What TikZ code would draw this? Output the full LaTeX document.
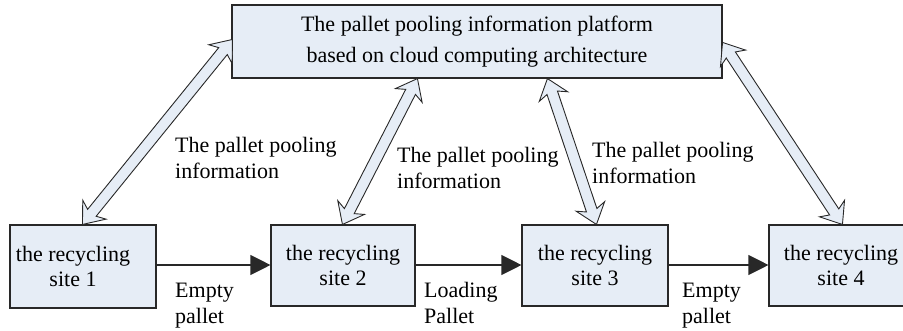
\documentclass[tikz,border=0pt]{standalone}
\usepackage{fontspec}
\setmainfont{Liberation Serif}
\usetikzlibrary{calc,arrows.meta}
\definecolor{boxfill}{RGB}{230,237,246}
\definecolor{edge}{RGB}{40,40,40}
\newcommand\ah{19pt}
\newcommand\aw{15pt}
\newcommand\aj{15pt}
\newcommand\as{5.5pt}
\newcommand\dblarrow[2]{%
  \draw[dblarr] (#1)
    -- ($(#1)!\ah!(#2)!\aw!90:(#2)$)
    -- ($(#1)!\aj!(#2)!\as!90:(#2)$)
    -- ($(#2)!\aj!(#1)!\as!-90:(#1)$)
    -- ($(#2)!\ah!(#1)!\aw!-90:(#1)$)
    -- (#2)
    -- ($(#2)!\ah!(#1)!\aw!90:(#1)$)
    -- ($(#2)!\aj!(#1)!\as!90:(#1)$)
    -- ($(#1)!\aj!(#2)!\as!-90:(#2)$)
    -- ($(#1)!\ah!(#2)!\aw!-90:(#2)$)
    -- cycle;}
\begin{document}
\begin{tikzpicture}[x=1pt,y=-1pt,
  font=\fontsize{22pt}{25.5pt}\selectfont,
  box/.style={draw=edge,line width=1.1pt,fill=boxfill,inner sep=0pt,align=center},
  lbl/.style={inner sep=0pt,align=left,anchor=base west,font=\fontsize{22pt}{26pt}\selectfont},
  dblarr/.style={draw=edge,line width=0.9pt,fill=boxfill,line join=miter},
  flow/.style={draw=edge,line width=1.1pt,-{Triangle[length=20pt,width=20pt]}}]
\useasboundingbox (0,0) rectangle (903,330);
\begin{scope}
\clip (0,0) rectangle (903,330);
\node[box,minimum width=490pt,minimum height=73pt,font=\fontsize{22pt}{31pt}\selectfont] (top) at (477,41.5)
  {The pallet pooling information platform\\based on cloud computing architecture};
\node[box,minimum width=146pt,minimum height=83pt] (s1) at (83,266.5)
  {the recycling\hspace*{20pt}\\site 1\hspace*{20pt}};
\node[box,minimum width=144pt,minimum height=81pt] (s2) at (343,265.5) {the recycling\\site 2};
\node[box,minimum width=146pt,minimum height=81pt] (s3) at (595,265.5) {the recycling\\site 3};
\node[box,minimum width=144pt,minimum height=81pt] (s4) at (841,265.5) {the recycling\\site 4};
\end{scope}
% double arrows
\coordinate (a1b) at ($(s1.north west)+(73,0)$);
\coordinate (a1t) at ($(top.north west)+(1,35)$);
\coordinate (a2b) at ($(s2.north west)+(72,0)$);
\coordinate (a2t) at ($(top.south west)+(186,0)$);
\coordinate (a3b) at ($(s3.north west)+(75,0)$);
\coordinate (a3t) at ($(top.south west)+(316,0)$);
\coordinate (a4b) at ($(s4.north west)+(74,0)$);
\coordinate (a4t) at ($(top.north east)+(0,38)$);
\dblarrow{a1b}{a1t}
\dblarrow{a2b}{a2t}
\dblarrow{a3b}{a3t}
\dblarrow{a4b}{a4t}
% flow arrows
\draw[flow] (s1.east |- 0,265) -- (s2.west |- 0,265);
\draw[flow] (s2.east |- 0,265) -- (s3.west |- 0,265);
\draw[flow] (s3.east |- 0,265) -- (s4.west |- 0,265);
% labels
\node[lbl] (l1) at (175,178) {The pallet pooling\\information};
\node[lbl] (l2) at (397,188) {The pallet pooling\\information};
\node[lbl] (l3) at (592,183) {The pallet pooling\\information};
\node[lbl] (e1) at (175,323) {Empty\\pallet};
\node[lbl] (e2) at (424,323) {Loading\\Pallet};
\node[lbl] (e3) at (682,323) {Empty\\pallet};
\end{tikzpicture}
\end{document}
